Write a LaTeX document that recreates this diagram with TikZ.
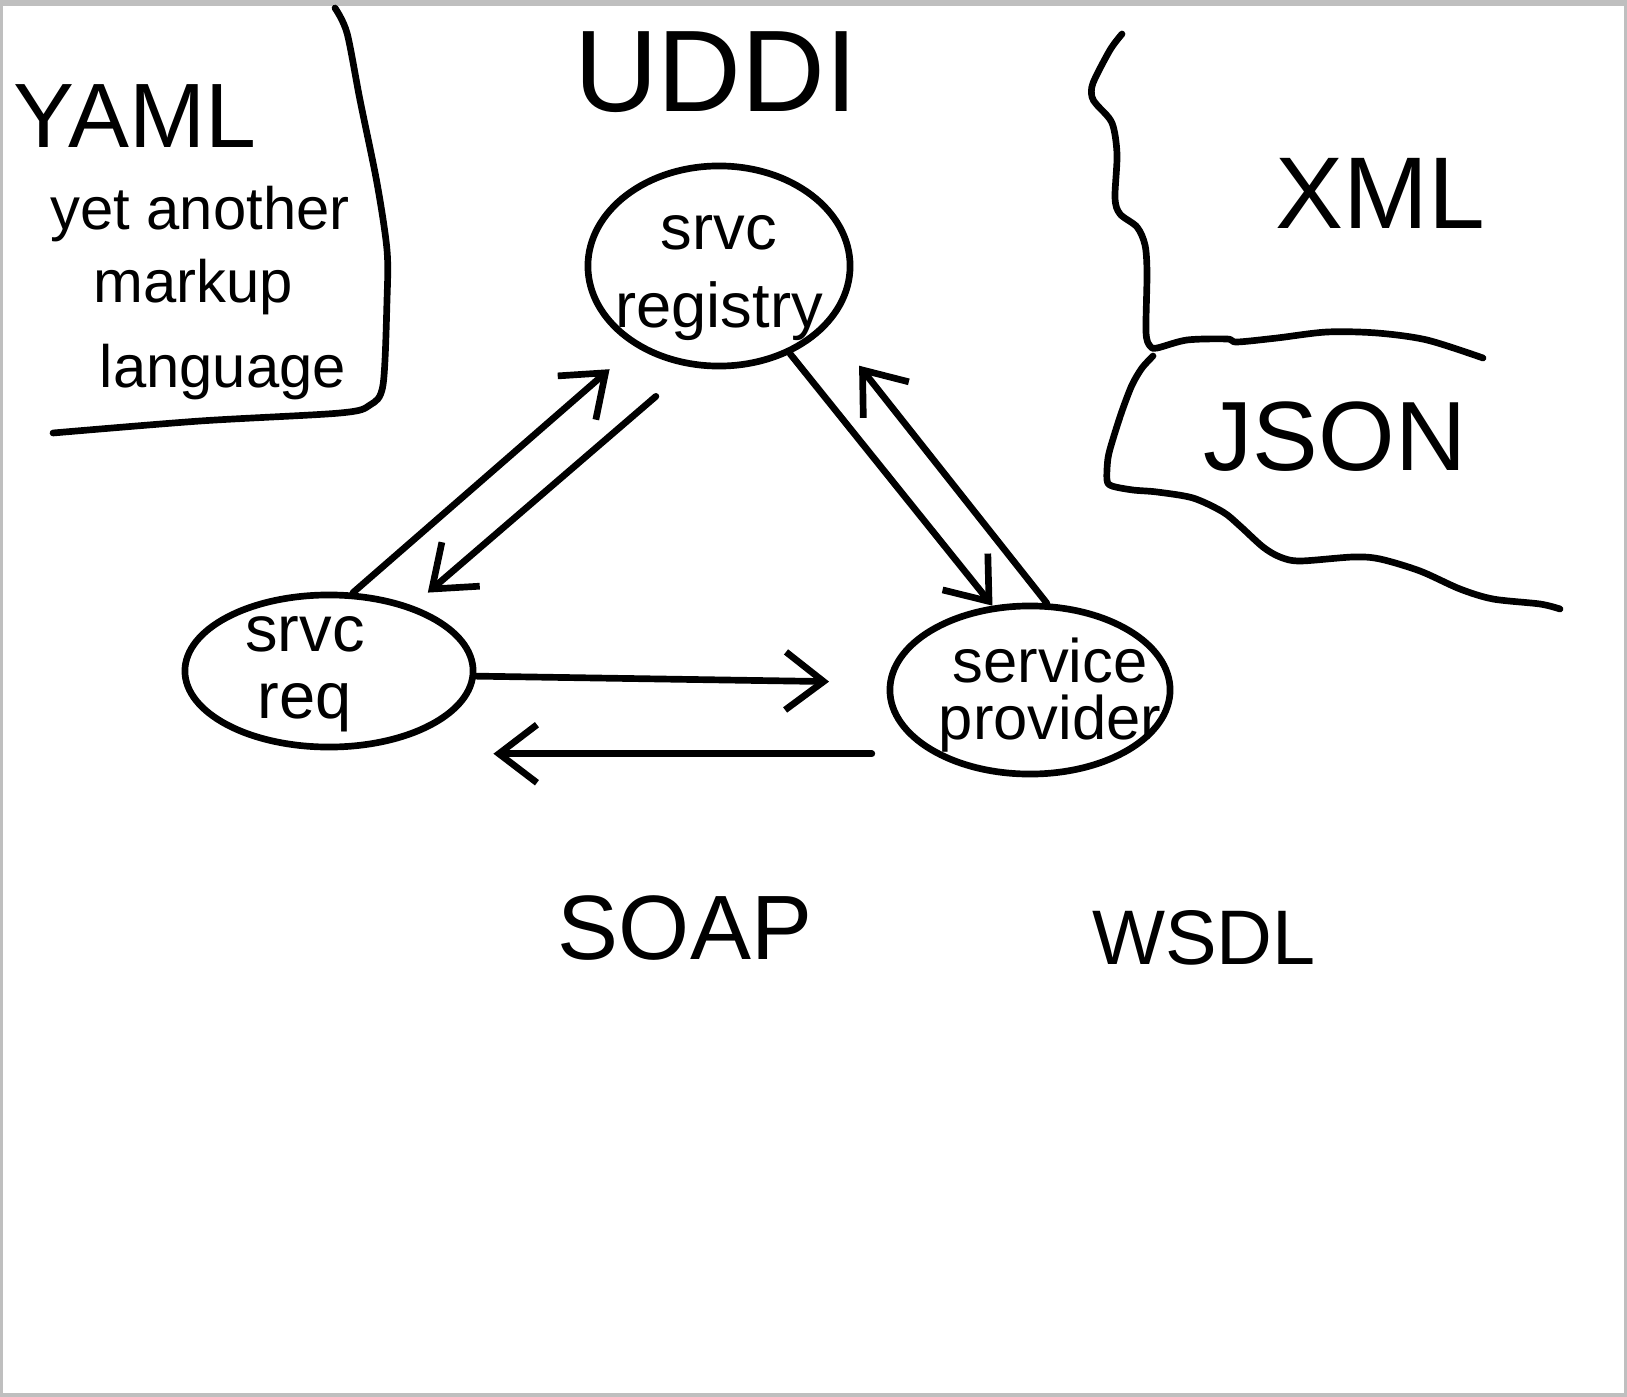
\documentclass[tikz,border=0pt]{standalone}
\usepackage{fontspec}
\setmainfont{Liberation Sans}
\usetikzlibrary{positioning,arrows.meta,calc,shapes.geometric}

\begin{document}
\begin{tikzpicture}[
  x=0.01cm, y=-0.01cm,
  line width=1.9pt, line cap=round, line join=round,
  blob/.style={draw, ellipse, inner sep=0pt},
  lbl/.style={align=center, inner sep=0pt},
  arr/.style={-{Straight Barb[length=3.8mm,width=5.8mm]}}
]

% frame
\fill[black!25] (0,0) rectangle (1627,1397);
\fill[white] (3,6) rectangle (1624,1393);
\useasboundingbox (0,0) rectangle (1627,1397);

% outlines
\draw plot[smooth, tension=0.5] coordinates {(335,8) (347,33) (360,100) (377,183) (387,250) (387,300) (383,385) (370,405) (340,413) (200,421) (53,433)};
\draw plot[smooth, tension=0.5] coordinates {(1122,34) (1110,50) (1093,83) (1092,97) (1097,105) (1112,123) (1117,154) (1115,198) (1120,214) (1137,227) (1145,245) (1147,273) (1146,332) (1150,346) (1157,348) (1187,340) (1227,339) (1237,342) (1277,338) (1327,332) (1377,333) (1427,340) (1483,358)};
\draw plot[smooth, tension=0.5] coordinates {(1153,356) (1142,368) (1132,385) (1122,411) (1113,439) (1108,458) (1107,480) (1112,486) (1133,490) (1157,492) (1193,498) (1223,512) (1240,526) (1263,547) (1280,557) (1300,561) (1353,557) (1380,559) (1420,571) (1460,589) (1493,599) (1540,604) (1560,609)};

% nodes
\node[blob, minimum width=2.62cm, minimum height=2cm] (reg) at (719,266) {};
\node[blob, minimum width=2.88cm, minimum height=1.52cm] (req) at (329,671) {};
\node[blob, minimum width=2.8cm, minimum height=1.68cm] (prov) at (1030,690) {};

\node[lbl, font=\fontsize{18}{22}\selectfont] (regtxt) at (719,278) {srvc\\registry};
\node[lbl, font=\fontsize{18.5}{19}\selectfont] (reqtxt) at (305,674) {srvc\\req};
\node[lbl, font=\fontsize{17.5}{16}\selectfont] (provtxt) at (1050,695) {service\\provider};

% labels
\node[lbl, font=\fontsize{26}{30}\selectfont] (yaml) at (135,116) {YAML};
\node[lbl, font=\fontsize{17}{20}\selectfont] (yaml1) at (200,214) {yet another};
\node[lbl, font=\fontsize{17}{20}\selectfont] (yaml2) at (193,287) {markup};
\node[lbl, font=\fontsize{17}{20}\selectfont] (yaml3) at (223,372) {language};
\node[lbl, font=\fontsize{33}{38}\selectfont] (uddi) at (716,72) {UDDI};
\node[lbl, font=\fontsize{29}{32}\selectfont] (xml) at (1380,193) {XML};
\node[lbl, font=\fontsize{28}{32}\selectfont] (json) at (1335,437) {JSON};
\node[lbl, font=\fontsize{26}{30}\selectfont] (soap) at (685,928) {SOAP};
\node[lbl, font=\fontsize{22}{26}\selectfont] (wsdl) at (1204,938) {WSDL};

% arrows
\draw[arr, shorten >=0.34cm] (req.73) -- (reg.224);
\draw[arr, shorten <=0.45cm, shorten >=0.2cm] (reg.254) -- (req.38);
\draw[arr] (reg.309) -- (prov.114);
\draw[arr, shorten >=0.5cm] (prov.79) -- (reg.331);
\draw[arr, shorten >=0.58cm] (req.358) -- (prov.177);
\draw[arr, shorten <=0.6cm, shorten >=0.17cm] (prov.213) -- (req.east |- prov.213);

\end{tikzpicture}
\end{document}
